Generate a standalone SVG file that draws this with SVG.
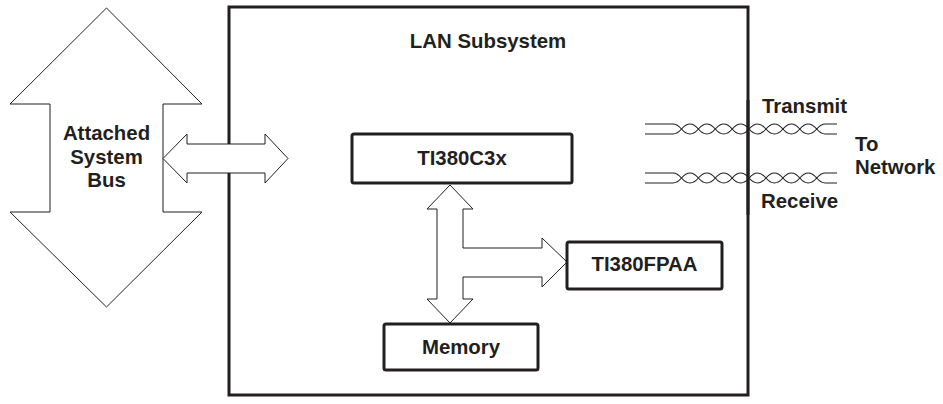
<svg xmlns="http://www.w3.org/2000/svg" width="943" height="404" viewBox="0 0 943 404">
<style>
  .t { font-family: "Liberation Sans", Arial, sans-serif; font-weight: bold; font-size: 20.4px; fill: #231f20; }
  .c { text-anchor: middle; }
  .box { fill: #fff; stroke: #231f20; stroke-width: 3; }
  .arrow { fill: #fff; stroke: #231f20; stroke-width: 1; stroke-linejoin: miter; }
  .wire { fill: none; stroke: #231f20; stroke-width: 1.1; }
  .edge { fill: none; stroke: #231f20; stroke-width: 3; }
</style>
<rect width="943" height="404" fill="#fff"/>

<g id="lan-subsystem">
  <rect class="box" x="229" y="7" width="519" height="388"/>
  <text class="t c" x="488" y="48">LAN Subsystem</text>
</g>

<g id="attached-system-bus">
  <polygon class="arrow" points="106.5,8 202,104 163,104 163,212 202,212 106.5,307 10,212 50,212 50,104 10,104"/>
  <text class="t c" x="106.5" y="140">Attached</text>
  <text class="t c" x="106.5" y="163.5">System</text>
  <text class="t c" x="106.5" y="187">Bus</text>
</g>

<g id="connectors">
  <polygon class="arrow" points="163,158.5 187,134 187,144 265,144 265,134 288,158.5 265,183 265,173 187,173 187,183"/>
  <polygon class="arrow" points="450,185 473,209 463,209 463,248 542,248 542,238 567,262 542,287 542,277 463,277 463,299 473,299 450,323 427,299 437,299 437,209 427,209"/>
  <g id="transmit-pair">
    <path class="wire" d="M645,124 H673 Q677.2,124 681.5,129 Q690,139 698.4,129 T715.3,129 T732.2,129 T749.1,129 T766,129 T782.9,129 T799.8,129 T816.7,129 Q821,124 825.2,124 H837"/>
    <path class="wire" d="M645,134 H673 Q677.2,134 681.5,129 Q690,119 698.4,129 T715.3,129 T732.2,129 T749.1,129 T766,129 T782.9,129 T799.8,129 T816.7,129 Q821,134 825.2,134 H837"/>
  </g>
  <g id="receive-pair">
    <path class="wire" d="M645,173 H673 Q677.2,173 681.5,178 Q690,188 698.4,178 T715.3,178 T732.2,178 T749.1,178 T766,178 T782.9,178 T799.8,178 T816.7,178 Q821,173 825.2,173 H837"/>
    <path class="wire" d="M645,183 H673 Q677.2,183 681.5,178 Q690,168 698.4,178 T715.3,178 T732.2,178 T749.1,178 T766,178 T782.9,178 T799.8,178 T816.7,178 Q821,183 825.2,183 H837"/>
  </g>
  <line class="edge" x1="748" y1="100" x2="748" y2="215"/>
</g>

<g id="ti380c3x">
  <rect class="box" x="352" y="134" width="220" height="49" rx="2"/>
  <text class="t c" x="462" y="165">TI380C3x</text>
</g>

<g id="ti380fpaa">
  <rect class="box" x="567" y="242" width="155" height="47" rx="2"/>
  <text class="t c" x="644.5" y="271">TI380FPAA</text>
</g>

<g id="memory">
  <rect class="box" x="384" y="324" width="154" height="46" rx="2"/>
  <text class="t c" x="461" y="354">Memory</text>
</g>

<g id="labels">
  <text class="t" x="762" y="113">Transmit</text>
  <text class="t" x="855" y="151">To</text>
  <text class="t" x="855" y="174">Network</text>
  <text class="t" x="761" y="208">Receive</text>
</g>
</svg>
